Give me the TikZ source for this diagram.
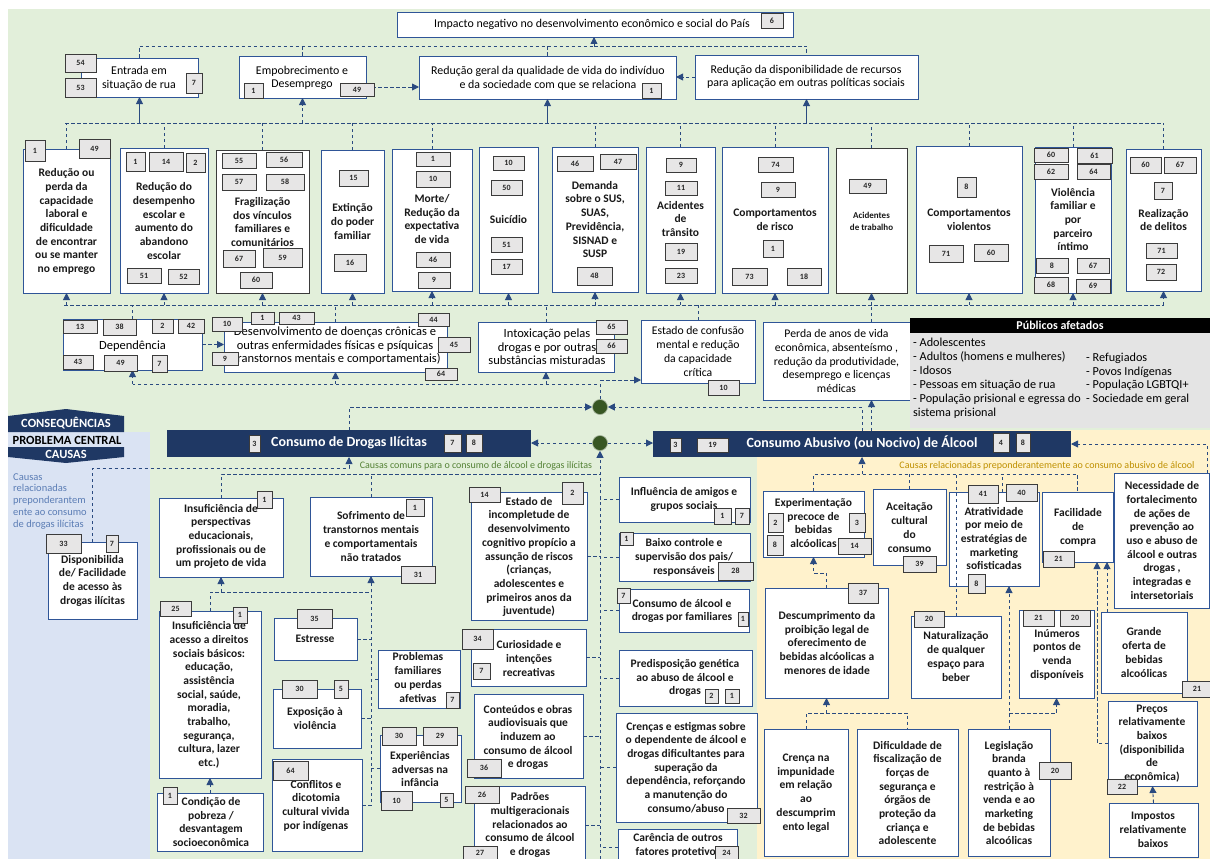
\documentclass[tikz,border=0pt]{standalone}
\usepackage{fontspec}
\setmainfont{Carlito}
\usetikzlibrary{arrows.meta}

\definecolor{bgG}{HTML}{E2EFDA}
\definecolor{bgB}{HTML}{DAE3F3}
\definecolor{bgY}{HTML}{FFF2CC}
\definecolor{navy}{HTML}{1F3864}
\definecolor{edge}{HTML}{2F5597}
\definecolor{numF}{HTML}{E7E6E6}
\definecolor{numD}{HTML}{3B3B3B}
\definecolor{arr}{HTML}{2A4A80}
\definecolor{circ}{HTML}{375623}
\definecolor{olive}{HTML}{548235}
\definecolor{gold}{HTML}{BF9000}
\definecolor{lbl}{HTML}{5B7DB5}
\definecolor{pubG}{HTML}{E4E4E4}

\tikzset{
  bx/.style={draw=edge, fill=white, line width=0.8pt, inner sep=0pt, outer sep=0pt},
  bxd/.style={bx, draw=numD},
  nb/.style={draw=numD, fill=numF, line width=0.9pt, inner sep=0pt, outer sep=0pt,
    font=\fontsize{8}{9}\selectfont\bfseries, text=black!85},
  tb/.style={align=center, inner sep=0pt, font=\fontsize{11.5}{13.7}\selectfont\bfseries, text=black!90},
  tr/.style={align=center, inner sep=0pt, font=\fontsize{11.7}{13.7}\selectfont},
  trL/.style={align=center, inner sep=0pt, font=\fontsize{12.5}{13.5}\selectfont},
  tt/.style={align=center, inner sep=0pt, font=\fontsize{11.9}{13.6}\selectfont},
  dl/.style={draw=arr, line width=0.9pt, dash pattern=on 3.5pt off 2.5pt},
  al/.style={dl, -{Triangle[length=7pt,width=7pt]}},
  als/.style={draw=arr, line width=0.9pt, -{Triangle[length=7pt,width=7pt]}},
  bar/.style={fill=navy, inner sep=0pt, outer sep=0pt},
  dot/.style={circle, fill=circ, draw=circ!45!white, line width=0.6pt, minimum size=15pt, inner sep=0pt},
}

% box given by its corners (x1,y1,x2,y2), y measured downwards
\newcommand\bxx[6][bx]{\node[#1, minimum width={(#5)-(#3)}, minimum height={(#6)-(#4)}] (#2) at ({((#3)+(#5))/2},{((#4)+(#6))/2}) {};}
% small grey reference-number box
\newcommand\nbx[6]{\node[nb, minimum width={(#4)-(#2)}, minimum height={(#5)-(#3)}] (#1) at ({((#2)+(#4))/2},{((#3)+(#5))/2}) {#6};}

\begin{document}
\begin{tikzpicture}[x=1pt,y=-1pt]
\useasboundingbox (0,0) rectangle (1210,859);

% ---------- backgrounds ----------
\fill[white] (0,0) rectangle (1210,859);
\fill[bgG] (8,9) rectangle (1210,859);
\fill[bgB] (8,432) rectangle (150,859);
\fill[bgY] (757,430) rectangle (1210,859);

% ---------- level banners ----------
\fill[navy] (8,432) -- (8,416) -- (66,409) -- (124,416) -- (124,432) -- cycle;
\node[text=white, font=\fontsize{12.5}{14}\selectfont\bfseries] (lbC) at (66,423) {CONSEQUÊNCIAS};
\node[font=\fontsize{12.5}{14}\selectfont\bfseries] (lbP) at (67,440) {PROBLEMA CENTRAL};
\fill[navy] (8,447) -- (124,447) -- (124,457) -- (66,463) -- (8,457) -- cycle;
\node[text=white, font=\fontsize{12.5}{14}\selectfont\bfseries] (lbK) at (66,454) {CAUSAS};

\node[anchor=north west, align=left, text=lbl, inner sep=0pt, font=\fontsize{10.5}{11.9}\selectfont] (lbD) at (13,473)
  {Causas\\relacionadas\\preponderantem\\ente ao consumo\\de drogas ilícitas};
\node[text=olive, inner sep=0pt, font=\fontsize{10}{11}\selectfont] (lbCom) at (476,466)
  {Causas comuns para o consumo de álcool  e drogas ilícitas};
\node[text=gold, inner sep=0pt, font=\fontsize{10}{11}\selectfont] (lbAlc) at (1047,466)
  {Causas relacionadas preponderantemente ao consumo abusivo de álcool};

% ---------- top effects ----------
\bxx{imp}{397}{12}{793}{37}
\bxx{ent}{81}{58}{198}{97}
\bxx{emp}{239}{56}{366}{98}
\bxx{rg}{419}{56}{676}{99}
\bxx{rd}{695}{55}{918}{99}
\node[tt] (impt) at (592,24) {Impacto negativo no desenvolvimento econômico e social do País};
\node[tt] (entt) at (139,78.5) {Entrada em\\situação de rua};
\node[tt] (empt) at (302,78) {Empobrecimento e\\Desemprego};
\node[tt] (rgt) at (548,78.5) {Redução geral da qualidade de vida do indivíduo\\e da sociedade com que se relaciona};
\node[tt] (rdt) at (806,77) {Redução da disponibilidade de recursos\\para aplicação em outras políticas sociais};

% ---------- consequences ----------
\bxx{c1}{23}{149}{110}{293}
\bxx{c2}{120}{148}{208}{293}
\bxx[bxd]{c3}{216}{150}{309}{293}
\bxx{c4}{321}{150}{384}{293}
\bxx{c5}{392}{149}{472}{291}
\bxx{c6}{479}{147}{538}{293}
\bxx{c7}{552}{147}{638}{292}
\bxx{c8}{646}{147}{715}{293}
\bxx{c9}{722}{147}{828}{293}
\bxx[bxd]{c10}{836}{148}{907}{293}
\bxx{c11}{916}{146}{1022}{293}
\bxx{c12}{1035}{147}{1111}{293}
\bxx{c13}{1126}{149}{1201}{291}
\node[tb] (c1t) at (66.5,221.5) {Redução ou\\perda da\\capacidade\\laboral e\\dificuldade\\de encontrar\\ou se manter\\no emprego};
\node[tb] (c2t) at (164,221) {Redução do\\desempenho\\escolar e\\aumento do\\abandono\\escolar};
\node[tb] (c3t) at (262.5,222) {Fragilização\\dos vínculos\\familiares e\\comunitários};
\node[tb] (c4t) at (352.5,221.5) {Extinção\\do poder\\familiar};
\node[tb] (c5t) at (432,219) {Morte/\\Redução da\\expectativa\\de vida};
\node[tb] (c6t) at (508.5,220) {Suicídio};
\node[tb] (c7t) at (595,219.5) {Demanda\\sobre o SUS,\\SUAS,\\Previdência,\\SISNAD e\\SUSP};
\node[tb] (c8t) at (680.5,219) {Acidentes\\de\\trânsito};
\node[tb] (c9t) at (775,220) {Comportamentos\\de risco};
\node[tb, font=\fontsize{9}{12}\selectfont\bfseries] (c10t) at (871.5,221) {Acidentes\\de trabalho};
\node[tb] (c11t) at (969,220) {Comportamentos\\violentos};
\node[tb] (c12t) at (1073,219.5) {Violência\\familiar e\\por\\parceiro\\íntimo};
\node[tb] (c13t) at (1163.5,220) {Realização\\de delitos};

% ---------- intermediate effects ----------
\bxx{dep}{63}{319}{202}{370}
\bxx{des}{224}{322}{447}{372}
\bxx{int}{478}{322}{614}{372}
\bxx{est}{641}{320}{755}{383}
\bxx{per}{763}{322}{910}{400}
\node[trL] (dept) at (132.5,346) {Dependência};
\node[trL] (dest) at (335,346) {Desenvolvimento de doenças crônicas e\\outras enfermidades físicas e psíquicas\\(transtornos mentais e comportamentais)};
\node[trL] (intt) at (547,347) {Intoxicação pelas\\drogas e por outras\\substâncias misturadas};
\node[tr] (estt) at (698,351.5) {Estado de confusão\\mental e redução\\da capacidade\\crítica};
\node[tr] (pert) at (836.5,361) {Perda de anos de vida\\econômica, absenteísmo ,\\redução da produtividade,\\desemprego e licenças\\médicas};

% ---------- affected publics ----------
\node[fill=black, minimum width=300, minimum height=15, inner sep=0pt, text=white,
  font=\fontsize{12}{13}\selectfont\bfseries] (pubH) at (1060,325.5) {Públicos afetados};
\node[fill=pubG, minimum width=300, minimum height=95, inner sep=0pt] (pubB) at (1060,380.5) {};
\node[anchor=north west, align=left, inner sep=0pt, font=\fontsize{12.2}{13.9}\selectfont] (pubL) at (913,338)
  {- Adolescentes\\- Adultos (homens e mulheres)\\- Idosos\\- Pessoas em situação de rua\\- População prisional e egressa do\\sistema prisional};
\node[anchor=north west, align=left, inner sep=0pt, font=\fontsize{12.2}{13.5}\selectfont] (pubR) at (1086,353)
  {- Refugiados\\- Povos Indígenas\\- População LGBTQI+\\- Sociedade em geral};

% ---------- central problem ----------
\bxx[bar]{dr}{167}{430}{531}{457}
\bxx[bar]{al}{653}{431}{1071}{457}
\node[text=white, font=\fontsize{14}{15}\selectfont\bfseries] (drt) at (349,443) {Consumo de Drogas Ilícitas};
\node[text=white, font=\fontsize{14}{15}\selectfont\bfseries] (alt) at (862,443) {Consumo Abusivo (ou Nocivo) de Álcool};
\node[dot] (U) at (600,407) {};
\node[dot] (L) at (600,443) {};

% ---------- causes: illicit drugs ----------
\bxx{dsp}{48}{542}{137}{619}
\node[tb] (dspt) at (92.5,580.5) {Disponibilida\\de/ Facilidade\\de acesso às\\drogas ilícitas};

% ---------- common causes ----------
\bxx{ip}{159}{498}{283}{577}
\bxx{sof}{310}{497}{432}{576}
\bxx{ia}{159}{611}{261}{778}
\bxx{pob}{157}{793}{263}{851}
\bxx{ese}{274}{618}{357}{660}
\bxx{exv}{273}{689}{361}{748}
\bxx{cfl}{272}{759}{362}{851}
\bxx{prb}{378}{650}{460}{708}
\bxx{exa}{380}{735}{461}{802}
\bxx{inc}{471}{492}{587}{620}
\bxx{cur}{471}{629}{586}{686}
\bxx{con}{474}{694}{583}{778}
\bxx{pad}{474}{786}{585}{864}
\bxx{inf}{619}{477}{750}{522}
\bxx{bai}{619}{533}{750}{581}
\bxx{fam}{619}{589}{749}{632}
\bxx{pre}{619}{650}{752}{706}
\bxx{cre}{616}{713}{757}{822}
\bxx{car}{618}{829}{737}{866}
\node[tb] (ipt) at (221,536.5) {Insuficiência de\\perspectivas\\educacionais,\\profissionais ou de\\um projeto de vida};
\node[tb] (soft) at (371,536.5) {Sofrimento de\\transtornos mentais\\e comportamentais\\não tratados};
\node[tb] (iat) at (209,695) {Insuficiência de\\acesso a direitos\\sociais básicos:\\educação,\\assistência\\social, saúde,\\moradia,\\trabalho,\\segurança,\\cultura, lazer\\etc.)};
\node[tb] (pobt) at (211,822) {Condição de\\pobreza /\\desvantagem\\socioeconômica};
\node[tb] (eset) at (315,639) {Estresse};
\node[tb] (exvt) at (315,718.5) {Exposição à\\violência};
\node[tb] (cflt) at (316,805.5) {Conflitos e\\dicotomia\\cultural vivida\\por indígenas};
\node[tb] (prbt) at (418,677.5) {Problemas\\familiares\\ou perdas\\afetivas};
\node[tb] (exat) at (420,769) {Experiências\\adversas na\\infância};
\node[tb] (inct) at (529,557) {Estado de\\incompletude de\\desenvolvimento\\cognitivo propício a\\assunção de riscos\\(crianças,\\adolescentes e\\primeiros anos da\\juventude)};
\node[tb] (curt) at (529,658.5) {Curiosidade e\\intenções\\recreativas};
\node[tb] (cont) at (528,737.5) {Conteúdos e obras\\audiovisuais que\\induzem ao\\consumo de álcool\\e drogas};
\node[tb] (padt) at (530,825) {Padrões\\multigeracionais\\relacionados ao\\consumo de álcool\\e drogas};
\node[tb] (inft) at (684,499.5) {Influência de amigos e\\grupos sociais};
\node[tb] (bait) at (684,557.5) {Baixo controle e\\supervisão dos pais/\\responsáveis};
\node[tb] (famt) at (682,611) {Consumo de álcool e\\drogas por familiares};
\node[tb] (pret) at (685,678) {Predisposição genética\\ao abuso de álcool e\\drogas};
\node[tb] (cret) at (686,767.5) {Crenças e estigmas sobre\\o dependente de álcool e\\drogas dificultantes para\\superação da\\dependência, reforçando\\a manutenção do\\consumo/abuso};
\node[tb] (cart) at (678,845.5) {Carência de outros\\fatores protetivos};

% ---------- causes: alcohol ----------
\bxx{epr}{763}{491}{864}{557}
\bxx{ace}{873}{489}{946}{565}
\bxx{atr}{949}{492}{1039}{586}
\bxx{fac}{1042}{492}{1113}{562}
\bxx{nec}{1114}{473}{1209}{608}
\bxx{dsc}{765}{588}{888}{698}
\bxx{nat}{911}{616}{1001}{698}
\bxx{inu}{1019}{610}{1094}{698}
\bxx{gra}{1101}{612}{1187}{693}
\bxx{prc}{1108}{701}{1197}{786}
\bxx{imq}{1109}{803}{1198}{857}
\bxx{cri}{764}{729}{848}{856}
\bxx{dif}{857}{729}{958}{856}
\bxx{leg}{968}{729}{1050}{856}
\node[tb] (eprt) at (813.5,523) {Experimentação\\precoce de\\bebidas\\alcóolicas};
\node[tb] (acet) at (909.5,527.5) {Aceitação\\cultural\\do\\consumo};
\node[tb] (atrt) at (994,538.5) {Atratividade\\por meio de\\estratégias de\\marketing\\sofisticadas};
\node[tb] (fact) at (1078,527.5) {Facilidade\\de\\compra};
\node[tb] (nect) at (1162,540.5) {Necessidade de\\fortalecimento\\de ações de\\prevenção ao\\uso e abuso de\\álcool e outras\\drogas ,\\integradas e\\intersetoriais};
\node[tb] (dsct) at (827,643) {Descumprimento da\\proibição legal de\\oferecimento de\\bebidas alcóolicas a\\menores de idade};
\node[tb] (natt) at (956,656.5) {Naturalização\\de qualquer\\espaço para\\beber};
\node[tb] (inut) at (1057,654.5) {Inúmeros\\pontos de\\venda\\disponíveis};
\node[tb] (grat) at (1144,652.5) {Grande\\oferta de\\bebidas\\alcoólicas};
\node[tb] (prct) at (1152,743.5) {Preços\\relativamente\\baixos\\(disponibilida\\de\\econômica)};
\node[tb] (imqt) at (1153,830) {Impostos\\relativamente\\baixos};
\node[tb] (crit) at (806,793) {Crença na\\impunidade\\em relação\\ao\\descumprim\\ento legal};
\node[tb] (dift) at (907.5,793) {Dificuldade de\\fiscalização de\\forças de\\segurança e\\órgãos de\\proteção da\\criança e\\adolescente};
\node[tb] (legt) at (1009,793) {Legislação\\branda\\quanto à\\restrição à\\venda e ao\\marketing\\de bebidas\\alcoólicas};

% ================= connectors =================
% top effects
\coordinate (tb) at (594,46);
\draw[dl] (ent.north) |- (tb);
\draw[dl] (tb) -| (rd.north);
\draw[dl] (emp.north) -- (emp.north |- tb);
\draw[dl] (rg.north) -- (rg.north |- tb);
\draw[al] (tb) -- (tb |- imp.south);
\draw[al] ([yshift=-10pt]emp.east) -- ([yshift=-10pt]emp.east -| rg.west);
\draw[al] (rd.west) -- (rd.west -| rg.east);

% consequences to top effects
\coordinate (b1L) at (65,123);
\coordinate (b1R) at (1164,123);
\draw[dl] (b1L) -- (b1R);
\draw[als] (ent.south |- b1L) -- (ent.south);
\draw[al] (emp.south |- b1L) -- (emp.south);
\draw[als] (rg.south |- b1L) -- (rg.south);
\draw[als] (rd.south |- b1L) -- (rd.south);
\foreach \q in {c1,c2,c3,c4,c5,c7,c8,c9,c10,c11,c12,c13}
  \draw[dl] (\q.north) -- (\q.north |- b1L);

% intermediate effects to consequences
\coordinate (b2L) at (64,305);
\coordinate (b2R) at (1164,305);
\draw[dl] (b2L) -- (b2R);
\foreach \q in {c1,c2,c3,c4,c5,c6,c7,c8,c9,c10,c11,c12,c13}
  \draw[al] (\q.south |- b2L) -- (\q.south);
\foreach \q in {dep,des,int,est}
  \draw[dl] (\q.north) -- (\q.north |- b2L);
\draw[dl] (per.north -| c10.south) -- (c10.south |- b2L);
\draw[al] (dep.east) -- (dep.east -| des.west);

% central problem to intermediate effects
\coordinate (yU) at (600,384);
\coordinate (yE) at (600,380);
\draw[dl] (U.north) -- (yU) -- (yU -| dep.south);
\foreach \q in {dep,des,int}
  \draw[al] (\q.south |- yU) -- (\q.south);
\draw[al] (yE) -- (yE -| est.west);
\draw[al] (dr.north) |- (U.west);
\draw[al] (al.north) |- (U.east);
\draw[al] (al.north -| c10.south) -- (per.south -| c10.south);
\draw[al] (L.west) -- (L.west -| dr.east);
\draw[al] (L.east) -- (L.east -| al.west);

% common causes
\coordinate (spB) at (600,859);
\coordinate (sp) at (600,0);
\coordinate (yC) at (600,474);
\draw[al] (spB) -- (L.south);
\draw[dl] (ip.north) |- (yC);
\draw[dl] (sof.north) -- (sof.north |- yC);
\foreach \q in {inc,cur,con,pad}
  \draw[dl] (\q.east) -- (\q.east -| sp);
\foreach \q in {inf,bai,fam,pre,cre,car}
  \draw[dl] (\q.west) -- (\q.west -| sp);
\draw[al] (cfl.east) -- (cfl.east -| sof.south) -- (sof.south);
\foreach \q in {ese,exv}
  \draw[dl] (\q.east) -- (\q.east -| sof.south);
\foreach \q in {prb,exa}
  \draw[dl] (\q.west) -- (\q.west -| sof.south);
\coordinate (y592) at (0,592);
\draw[dl] (ia.north) -- (ia.north |- y592) -- (sof.south |- y592);
\draw[al] (ip.south |- y592) -- (ip.south);
\draw[al] (pob.north) -- (ia.south);

% illicit drugs specific cause
\coordinate (yD) at (0,468);
\draw[al] (dsp.north) |- (dr.south |- yD) -- (dr.south);

% alcohol causes
\coordinate (yA) at (0,474);
\coordinate (atrx) at ([xshift=8pt]atr.north);
\draw[dl] (epr.north) |- (fac.north |- yA) -- (fac.north);
\draw[al] (al.south |- yA) -- (al.south);
\draw[dl] (ace.north) -- (ace.north |- yA);
\draw[dl] (atrx) -- (atrx |- yA);
\draw[dl] (nat.north) -- (nat.north |- yA);
\draw[al] ([xshift=-2pt]nec.north east) |- (al.east);
\coordinate (y573) at (0,573);
\draw[al] (dsc.north) -- (dsc.north |- y573) -| (epr.south);
\coordinate (y713) at (0,713);
\draw[dl] (cri.north) |- (dif.north |- y713) -- (dif.north);
\draw[al] (dsc.south |- y713) -- (dsc.south);
\draw[al] (leg.north) -- (leg.north |- atr.south);
\draw[al] (leg.north |- y713) -| (inu.south);
\coordinate (fx1) at ([xshift=19.5pt]fac.south);
\coordinate (fx2) at ([xshift=29.5pt]fac.south);
\draw[al] (prc.west) -| (fx1);
\draw[al] (fx2 |- gra.north) -- (fx2);
\draw[al] (imq.north) -- (prc.south);

% ================= reference numbers =================
\nbx{n6}{761}{13}{783}{28}{6}
\nbx{n54}{65}{54}{96}{72}{54}
\nbx{n53}{65}{78}{96}{97}{53}
\nbx{n7a}{186}{73}{202}{93}{7}
\nbx{n1a}{244}{83}{263}{98}{1}
\nbx{n49a}{340}{83}{374}{96}{49}
\nbx{n1b}{642}{83}{661}{98}{1}

\nbx{n1c}{25}{140}{45}{161}{1}
\nbx{n49c}{79}{139}{110}{158}{49}
\nbx{n1d}{126}{152}{145}{171}{1}
\nbx{n14a}{149}{152}{183}{171}{14}
\nbx{n2a}{186}{153}{205}{172}{2}
\nbx{n51a}{127}{268}{161}{283}{51}
\nbx{n52a}{168}{269}{199}{284}{52}
\nbx{n55}{222}{153}{256}{168}{55}
\nbx{n56}{266}{152}{302}{167}{56}
\nbx{n57}{222}{174}{256}{190}{57}
\nbx{n58}{266}{174}{304}{190}{58}
\nbx{n67a}{223}{250}{255}{267}{67}
\nbx{n59}{263}{248}{302}{267}{59}
\nbx{n60a}{240}{272}{272}{288}{60}
\nbx{n15}{339}{170}{368}{186}{15}
\nbx{n16}{334}{254}{366}{271}{16}
\nbx{n1e}{416}{152}{450}{166}{1}
\nbx{n10a}{416}{171}{450}{187}{10}
\nbx{n46a}{416}{252}{450}{267}{46}
\nbx{n9a}{418}{272}{450}{288}{9}
\nbx{n10b}{493}{156}{524}{170}{10}
\nbx{n50}{491}{180}{522}{195}{50}
\nbx{n51b}{491}{237}{522}{252}{51}
\nbx{n17}{491}{259}{522}{274}{17}
\nbx{n46b}{557}{156}{593}{171}{46}
\nbx{n47}{600}{154}{636}{169}{47}
\nbx{n48}{577}{267}{612}{285}{48}
\nbx{n9b}{666}{158}{696}{172}{9}
\nbx{n11}{665}{181}{697}{195}{11}
\nbx{n19a}{665}{243}{697}{260}{19}
\nbx{n23}{665}{268}{697}{283}{23}
\nbx{n74}{758}{157}{793}{172}{74}
\nbx{n9c}{761}{182}{795}{197}{9}
\nbx{n1f}{763}{240}{783}{257}{1}
\nbx{n73}{732}{268}{767}{285}{73}
\nbx{n18}{787}{268}{821}{285}{18}
\nbx{n49d}{849}{179}{886}{193}{49}
\nbx{n8a}{957}{177}{976}{197}{8}
\nbx{n71a}{929}{245}{963}{262}{71}
\nbx{n60b}{974}{244}{1008}{261}{60}
\nbx{n60c}{1034}{148}{1068}{162}{60}
\nbx{n61}{1077}{148}{1112}{163}{61}
\nbx{n62}{1034}{164}{1068}{179}{62}
\nbx{n64a}{1077}{164}{1110}{179}{64}
\nbx{n8b}{1036}{258}{1068}{273}{8}
\nbx{n67b}{1077}{258}{1109}{273}{67}
\nbx{n68}{1034}{277}{1068}{293}{68}
\nbx{n69}{1076}{279}{1110}{293}{69}
\nbx{n60d}{1130}{157}{1161}{173}{60}
\nbx{n67c}{1164}{157}{1196}{173}{67}
\nbx{n7b}{1154}{182}{1172}{199}{7}
\nbx{n71b}{1146}{243}{1177}{258}{71}
\nbx{n72}{1146}{264}{1176}{280}{72}

\nbx{n13}{63}{320}{97}{333}{13}
\nbx{n38}{103}{319}{136}{335}{38}
\nbx{n2b}{152}{319}{173}{333}{2}
\nbx{n42}{178}{319}{204}{333}{42}
\nbx{n43a}{63}{355}{93}{369}{43}
\nbx{n49e}{104}{355}{137}{371}{49}
\nbx{n7c}{152}{355}{167}{372}{7}
\nbx{n10c}{212}{317}{242}{331}{10}
\nbx{n1g}{251}{312}{274}{324}{1}
\nbx{n43b}{279}{312}{314}{324}{43}
\nbx{n44}{418}{313}{449}{326}{44}
\nbx{n45}{438}{337}{470}{352}{45}
\nbx{n9d}{212}{352}{238}{365}{9}
\nbx{n64b}{425}{368}{457}{380}{64}
\nbx{n65}{596}{320}{627}{334}{65}
\nbx{n66}{596}{339}{627}{353}{66}
\nbx{n10d}{708}{380}{739}{395}{10}

\nbx{n3a}{249}{435}{260}{452}{3}
\nbx{n7d}{444}{434}{461}{452}{7}
\nbx{n8c}{466}{434}{482}{452}{8}
\nbx{n3b}{670}{438}{681}{452}{3}
\nbx{n19b}{697}{438}{728}{452}{19}
\nbx{n4}{993}{433}{1009}{452}{4}
\nbx{n8d}{1016}{433}{1030}{452}{8}

\nbx{n33}{46}{534}{81}{553}{33}
\nbx{n7e}{106}{535}{118}{552}{7}
\nbx{n1h}{257}{491}{272}{508}{1}
\nbx{n1i}{406}{499}{424}{516}{1}
\nbx{n31}{401}{566}{435}{583}{31}
\nbx{n25}{160}{601}{191}{616}{25}
\nbx{n1j}{233}{607}{247}{623}{1}
\nbx{n1k}{163}{787}{177}{804}{1}
\nbx{n35}{297}{609}{332}{628}{35}
\nbx{n30a}{282}{680}{317}{698}{30}
\nbx{n5a}{334}{680}{348}{698}{5}
\nbx{n64c}{273}{761}{308}{780}{64}
\nbx{n7f}{446}{692}{459}{708}{7}
\nbx{n30b}{382}{727}{416}{745}{30}
\nbx{n29}{423}{727}{457}{745}{29}
\nbx{n10e}{381}{791}{412}{810}{10}
\nbx{n5b}{440}{793}{453}{807}{5}
\nbx{n14b}{469}{487}{500}{502}{14}
\nbx{n2c}{562}{482}{583}{504}{2}
\nbx{n34}{462}{629}{493}{649}{34}
\nbx{n7g}{473}{663}{490}{679}{7}
\nbx{n36}{467}{759}{501}{777}{36}
\nbx{n26}{465}{786}{499}{803}{26}
\nbx{n27}{463}{846}{497}{859}{27}
\nbx{n1l}{714}{508}{731}{524}{1}
\nbx{n7h}{735}{508}{749}{524}{7}
\nbx{n1m}{620}{532}{633}{545}{1}
\nbx{n28}{718}{562}{753}{580}{28}
\nbx{n7i}{617}{588}{630}{603}{7}
\nbx{n1n}{738}{612}{748}{626}{1}
\nbx{n2d}{705}{689}{718}{703}{2}
\nbx{n1o}{725}{689}{739}{703}{1}
\nbx{n32}{727}{808}{760}{823}{32}
\nbx{n24}{715}{846}{738}{859}{24}

\nbx{n2e}{768}{513}{783}{532}{2}
\nbx{n3c}{849}{513}{865}{532}{3}
\nbx{n8e}{767}{535}{783}{555}{8}
\nbx{n14c}{838}{538}{871}{554}{14}
\nbx{n39}{903}{556}{936}{572}{39}
\nbx{n41}{968}{485}{998}{503}{41}
\nbx{n40}{1006}{484}{1037}{501}{40}
\nbx{n8f}{968}{574}{985}{593}{8}
\nbx{n21a}{1043}{551}{1074}{567}{21}
\nbx{n37}{848}{583}{878}{603}{37}
\nbx{n20a}{914}{611}{944}{627}{20}
\nbx{n21b}{1023}{610}{1054}{626}{21}
\nbx{n20b}{1060}{610}{1090}{626}{20}
\nbx{n21c}{1182}{681}{1212}{697}{21}
\nbx{n22}{1107}{779}{1137}{794}{22}
\nbx{n20c}{1039}{762}{1071}{779}{20}
\end{tikzpicture}
\end{document}
